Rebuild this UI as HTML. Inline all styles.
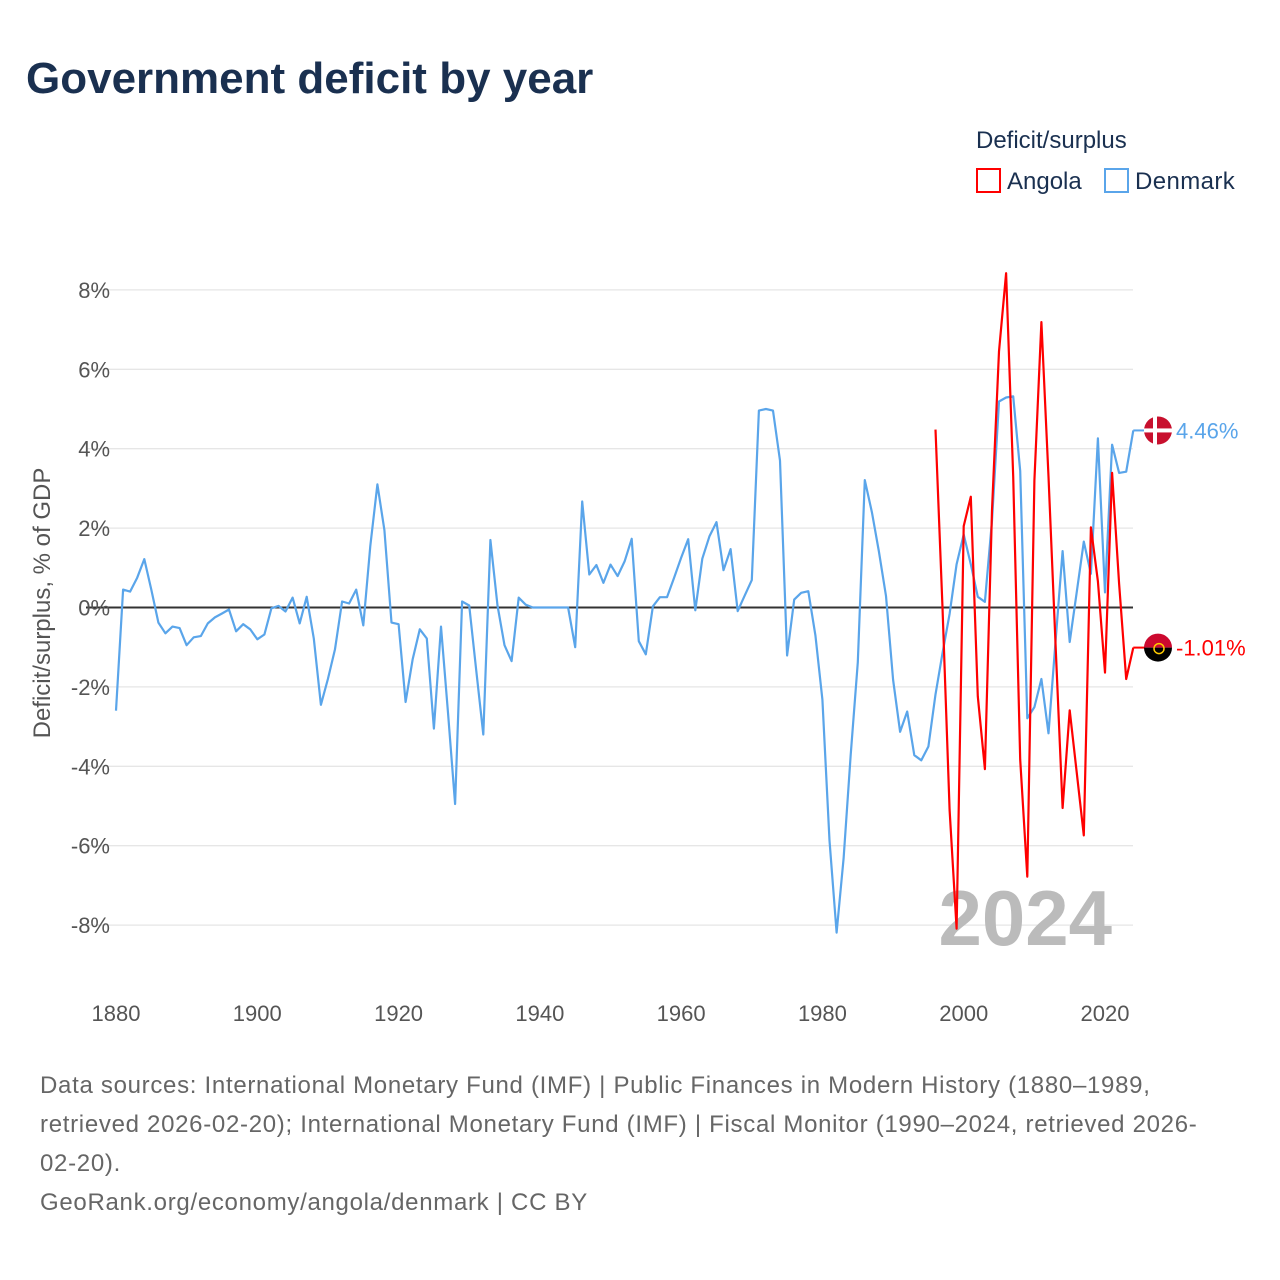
<!DOCTYPE html>
<html><head><meta charset="utf-8">
<style>
body{margin:0;background:#fff;font-family:"Liberation Sans",sans-serif;}
#wrap{position:relative;width:1280px;height:1280px;overflow:hidden;}
</style></head>
<body>
<div id="wrap">
<svg id="chart" width="1280" height="1280" style="position:absolute;left:0;top:0">
<text x="26" y="93" font-size="44" font-weight="bold" fill="#1a3050">Government deficit by year</text>
<text x="976" y="148" font-size="24" fill="#1a3050">Deficit/surplus</text>
<g><rect x="977" y="169" width="23" height="23" fill="none" stroke="#ff0000" stroke-width="2"/><text x="1007" y="189" font-size="24" fill="#1a3050">Angola</text></g>
<g><rect x="1105" y="169" width="23" height="23" fill="none" stroke="#5aa5ea" stroke-width="2"/><text x="1135" y="189" font-size="24" fill="#1a3050" letter-spacing="0.4">Denmark</text></g>
<g id="grid"></g>
<g id="ylabels"></g>
<g id="xlabels"></g>
<text x="50" y="603" font-size="24" fill="#555" text-anchor="middle" transform="rotate(-90 50 603)">Deficit/surplus, % of GDP</text>
<text x="1112" y="945" font-size="78" font-weight="bold" fill="#bbbbbb" text-anchor="end">2024</text>
<g id="series"></g>
</svg>
<div style="position:absolute;left:40px;top:1066px;width:1230px;font-size:24px;line-height:39px;color:#666;letter-spacing:0.7px;white-space:nowrap">Data sources: International Monetary Fund (IMF) | Public Finances in Modern History (1880–1989,<br>retrieved 2026-02-20); International Monetary Fund (IMF) | Fiscal Monitor (1990–2024, retrieved 2026-<br>02-20).<br>GeoRank.org/economy/angola/denmark | CC BY</div>
</div>
<script>
const denmarkStart = 1880;
const denmarkValues = [-2.6,0.45,0.4,0.75,1.22,0.45,-0.38,-0.65,-0.48,-0.52,-0.95,-0.75,-0.72,-0.4,-0.25,-0.15,-0.05,-0.6,-0.42,-0.55,-0.8,-0.68,-0.02,0.04,-0.1,0.25,-0.4,0.27,-0.78,-2.45,-1.8,-1.05,0.15,0.1,0.45,-0.45,1.55,3.1,1.95,-0.38,-0.42,-2.38,-1.3,-0.55,-0.78,-3.05,-0.48,-2.65,-4.95,0.15,0.05,-1.6,-3.2,1.7,0.05,-0.95,-1.35,0.25,0.07,0,0,0,0,0,0,-1.0,2.67,0.83,1.07,0.62,1.08,0.79,1.16,1.73,-0.85,-1.18,0.03,0.26,0.26,0.75,1.25,1.72,-0.07,1.23,1.79,2.15,0.94,1.47,-0.09,0.3,0.69,4.96,5.0,4.96,3.7,-1.21,0.2,0.37,0.41,-0.7,-2.32,-5.87,-8.19,-6.32,-3.71,-1.38,3.21,2.4,1.41,0.29,-1.82,-3.13,-2.62,-3.72,-3.85,-3.5,-2.19,-1.15,-0.16,1.09,1.84,1.09,0.27,0.14,2.19,5.19,5.29,5.32,3.44,-2.79,-2.51,-1.8,-3.17,-0.87,1.42,-0.87,0.38,1.66,0.85,4.26,0.38,4.1,3.39,3.42,4.46];
const angolaStart = 1996;
const angolaValues = [4.48,0.0,-5.1,-8.09,2.05,2.79,-2.24,-4.07,2.45,6.45,8.42,3.3,-3.83,-6.78,3.2,7.19,3.3,-0.9,-5.05,-2.59,-4.15,-5.74,2.02,0.66,-1.64,3.39,0.6,-1.8,-1.01];
const yTicks = [8,6,4,2,0,-2,-4,-6,-8];
const xTicks = [1880,1900,1920,1940,1960,1980,2000,2020];

const NS="http://www.w3.org/2000/svg";
const xs = y => 116 + (y-1880)*(989/140);
const ys = v => 607.5 - v*39.7;
function mk(tag, attrs, parent){const e=document.createElementNS(NS,tag);for(const k in attrs)e.setAttribute(k,attrs[k]);parent.appendChild(e);return e;}
const grid=document.getElementById('grid'), yl=document.getElementById('ylabels'), xl=document.getElementById('xlabels'), ser=document.getElementById('series');
yTicks.forEach(t=>{
  const l=mk('line',{x1:86,x2:1133,y1:ys(t),y2:ys(t),stroke:t===0?'#333':'#e6e6e6','stroke-width':t===0?2:1.3},grid);
  
  
  const tx=mk('text',{x:110,y:ys(t)+8,'font-size':22,fill:'#555','text-anchor':'end'},yl);
  tx.textContent=t+'%';
  
  
});
xTicks.forEach(t=>{
  const tx=mk('text',{x:xs(t),y:1021,'font-size':22,fill:'#555','text-anchor':'middle'},xl);
  tx.textContent=t;
  
  
});
function line(start, vals, color, name){
  const pts=vals.map((v,i)=>xs(start+i).toFixed(1)+','+ys(v).toFixed(1)).join(' ');
  const p=mk('polyline',{points:pts,fill:'none',stroke:color,'stroke-width':2.2,'stroke-linejoin':'round'},ser);
  
  
}
line(denmarkStart, denmarkValues, '#5aa5ea', 'denmark-line');
line(angolaStart, angolaValues, '#ff0000', 'angola-line');
function endLabel(start, vals, color, name, flag){
  const last=vals[vals.length-1], x=xs(start+vals.length-1), y=ys(last);
  const c=mk('line',{x1:x,x2:x+12,y1:y,y2:y,stroke:color,'stroke-width':2},ser);
  
  
  const g=mk('g',{},ser);
  
  
  const cx=1158;
  if(flag==='dk'){
    mk('circle',{cx:cx,cy:y,r:14,fill:'#c8102e'},g);
    mk('rect',{x:cx-5,y:y-14,width:4,height:28,fill:'#fff'},g);
    mk('rect',{x:cx-14,y:y-2,width:28,height:4,fill:'#fff'},g);
  } else {
    mk('path',{d:`M${cx-14},${y} A14,14 0 0 1 ${cx+14},${y} Z`,fill:'#cc092f'},g);
    mk('path',{d:`M${cx-14},${y} A14,14 0 0 0 ${cx+14},${y} Z`,fill:'#000'},g);
    mk('circle',{cx:cx+1,cy:y+1,r:5,fill:'none',stroke:'#ffcb00','stroke-width':1.5},g);
  }
  const t=mk('text',{x:1176,y:y+8,'font-size':22,fill:color},ser);
  t.textContent=last.toFixed(2)+'%';
  
  
}
endLabel(denmarkStart, denmarkValues, '#5aa5ea', 'denmark', 'dk');
endLabel(angolaStart, angolaValues, '#ff0000', 'angola', 'ao');
</script>
</body></html>
